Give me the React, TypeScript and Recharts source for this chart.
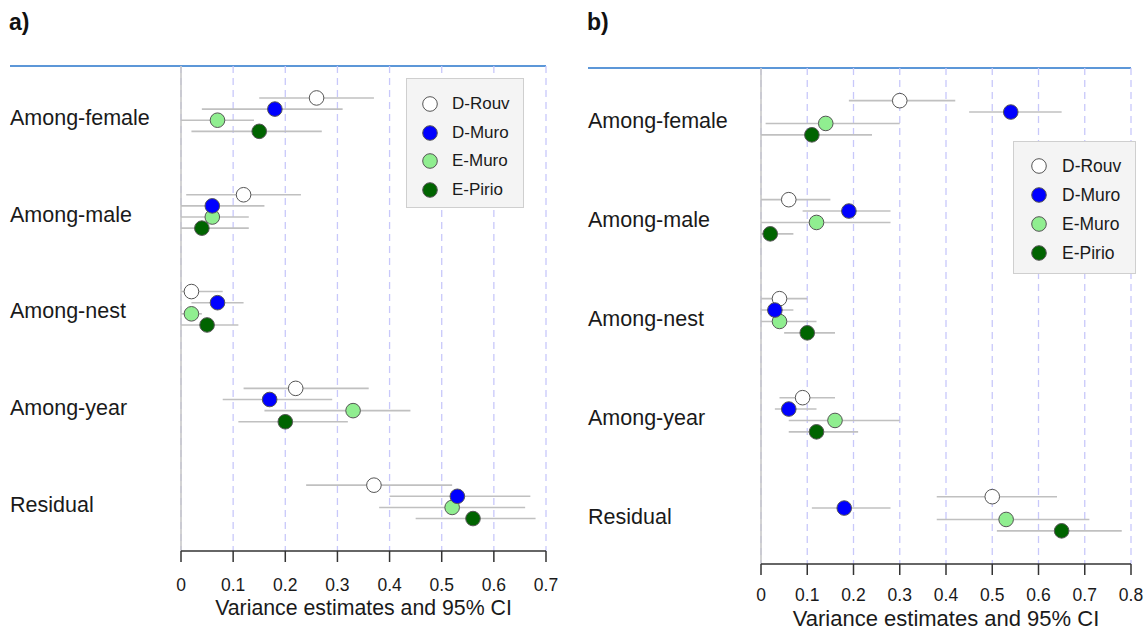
import { ScatterChart, Scatter, XAxis, YAxis, CartesianGrid, ReferenceLine, ErrorBar, Label } from "recharts";

// categories, top to bottom
const categories = ["Among-female", "Among-male", "Among-nest", "Among-year", "Residual"];

// each entry: [estimate, lower 95% CI, upper 95% CI], one per category
// panel a
const aRouv = [[0.26, 0.15, 0.37], [0.12, 0.01, 0.23], [0.02, 0, 0.08], [0.22, 0.12, 0.36], [0.37, 0.24, 0.52]];
const aMuroD = [[0.18, 0.04, 0.31], [0.06, 0, 0.16], [0.07, 0.02, 0.12], [0.17, 0.08, 0.29], [0.53, 0.4, 0.67]];
const aMuroE = [[0.07, 0, 0.14], [0.06, 0, 0.13], [0.02, 0, 0.04], [0.33, 0.16, 0.44], [0.52, 0.38, 0.66]];
const aPirio = [[0.15, 0.02, 0.27], [0.04, 0, 0.13], [0.05, 0, 0.11], [0.2, 0.11, 0.32], [0.56, 0.45, 0.68]];

// panel b
const bRouv = [[0.3, 0.19, 0.42], [0.06, 0, 0.15], [0.04, 0, 0.1], [0.09, 0.04, 0.16], [0.5, 0.38, 0.64]];
const bMuroD = [[0.54, 0.45, 0.65], [0.19, 0.09, 0.28], [0.03, 0, 0.07], [0.06, 0.03, 0.12], [0.18, 0.11, 0.28]];
const bMuroE = [[0.14, 0.01, 0.3], [0.12, 0, 0.28], [0.04, 0, 0.12], [0.16, 0.06, 0.3], [0.53, 0.38, 0.71]];
const bPirio = [[0.11, 0, 0.24], [0.02, 0, 0.07], [0.1, 0.05, 0.16], [0.12, 0.06, 0.21], [0.65, 0.51, 0.78]];

const aTicks = [0, 0.1, 0.2, 0.3, 0.4, 0.5, 0.6, 0.7];
const bTicks = [0, 0.1, 0.2, 0.3, 0.4, 0.5, 0.6, 0.7, 0.8];

const FONT = '"Liberation Sans", Arial, sans-serif';
const STEP = 0.115; // vertical offset between the 4 series inside a group

const series = [
  { name: "D-Rouv", fill: "#ffffff", idx: 0 },
  { name: "D-Muro", fill: "#0000ff", idx: 1 },
  { name: "E-Muro", fill: "#90ee90", idx: 2 },
  { name: "E-Pirio", fill: "#006400", idx: 3 },
];
// draw order (D-Muro on top)
const drawOrder = [0, 2, 3, 1];

const toRows = (vals: number[][], s: number) =>
  vals.map((v, i) => ({ x: v[0], y: i + s * STEP, err: [v[0] - v[1], v[2] - v[0]] }));

const Dot = (fill: string) => (p: any) =>
  <circle cx={p.cx} cy={p.cy} r={7.3} fill={fill} stroke="#555" strokeWidth={1} />;

function Panel({ data, ticks, left, top, width, xAxisH, title, labelX, legendPos, big }: any) {
  const plotTop = top;
  const max = ticks[ticks.length - 1];
  return (
    <div style={{ position: "absolute", left, top: 0, width, height: 632 }}>
      <div style={{ position: "absolute", left: labelX - 1, top: 9, fontSize: 23, fontWeight: "bold", color: "#111" }}>{title}</div>
      <div style={{ position: "absolute", left: labelX, top: plotTop - 1, width: width - 14 - labelX, height: 2, background: "#5c97d8" }} />
      <ScatterChart width={width} height={632} margin={{ top: plotTop, right: 14, bottom: 0, left: 0 }}>
        <CartesianGrid horizontal={false} stroke="#c8c8fa" strokeDasharray="7 5" strokeWidth={1.3} />
        <ReferenceLine x={0} stroke="#c4c4c4" strokeWidth={1.5} />
        <XAxis
          type="number"
          dataKey="x"
          domain={[0, max]}
          ticks={ticks}
          allowDataOverflow
          height={xAxisH}
          tickSize={11}
          tickMargin={big ? 14 : 17}
          axisLine={{ stroke: "#333", strokeWidth: 1.5 }}
          tickLine={{ stroke: "#333", strokeWidth: 1.5 }}
          tick={{ fill: "#1a1a1a", fontSize: 17.5, fontFamily: FONT }}
          tickFormatter={(v: number) => String(v)}
        >
          <Label
            value="Variance estimates and 95% CI"
            position="insideBottom"
            offset={big ? 6 : 17}
            style={{ fill: "#1a1a1a", fontSize: big ? 22 : 21.3, fontFamily: FONT }}
          />
        </XAxis>
        <YAxis
          type="number"
          dataKey="y"
          domain={[-0.33, 4.68]}
          reversed
          width={181}
          axisLine={false}
          tickLine={false}
          ticks={[0.2, 1.2, 2.2, 3.2, 4.2]}
          tick={(p: any) => (
            <text x={labelX} y={p.y} dy="0.35em" textAnchor="start" fontSize={21.5} fontFamily={FONT} fill="#1a1a1a">
              {categories[Math.round(p.payload.value - 0.2)]}
            </text>
          )}
        />
        {drawOrder.map((s) => (
          <Scatter
            key={series[s].name}
            name={series[s].name}
            data={toRows(data[s], s)}
            shape={Dot(series[s].fill)}
            isAnimationActive={false}
          >
            <ErrorBar dataKey="err" direction="x" width={0} stroke="#c0c0c0" strokeWidth={1.6} />
          </Scatter>
        ))}
      </ScatterChart>
      <div
        style={{
          position: "absolute",
          left: legendPos.x,
          top: legendPos.y,
          width: legendPos.w,
          height: legendPos.h,
          background: "#f4f4f4",
          border: "1.5px solid #cfcfcf",
          boxSizing: "border-box",
        }}
      >
        {series.map((s, i) => (
          <div
            key={s.name}
            style={{ position: "absolute", left: 0, top: legendPos.row0 + i * legendPos.dy - 12, height: 24, display: "flex", alignItems: "center" }}
          >
            <svg width={legendPos.textX} height={24} style={{ display: "block" }}>
              <circle cx={legendPos.symX} cy={12} r={7.3} fill={s.fill} stroke="#555" strokeWidth={1} />
            </svg>
            <span style={{ fontSize: big ? 17.5 : 17, color: "#1a1a1a", fontFamily: FONT }}>{s.name}</span>
          </div>
        ))}
      </div>
    </div>
  );
}

export default function App() {
  return (
    <div style={{ position: "absolute", left: 0, top: 0, width: 1145, height: 632, background: "#fff", fontFamily: FONT }}>
      <Panel
        data={[aRouv, aMuroD, aMuroE, aPirio]}
        ticks={aTicks}
        left={0}
        top={66}
        width={560}
        xAxisH={81}
        title="a)"
        labelX={10}
        legendPos={{ x: 406, y: 78, w: 118, h: 130, row0: 25, dy: 28.5, symX: 23, textX: 45 }}
      />
      <Panel
        data={[bRouv, bMuroD, bMuroE, bPirio]}
        ticks={bTicks}
        left={580}
        top={68}
        width={565}
        xAxisH={68}
        title="b)"
        labelX={8}
        big
        legendPos={{ x: 433, y: 141, w: 123, h: 133, row0: 24, dy: 29, symX: 25, textX: 48 }}
      />
    </div>
  );
}
